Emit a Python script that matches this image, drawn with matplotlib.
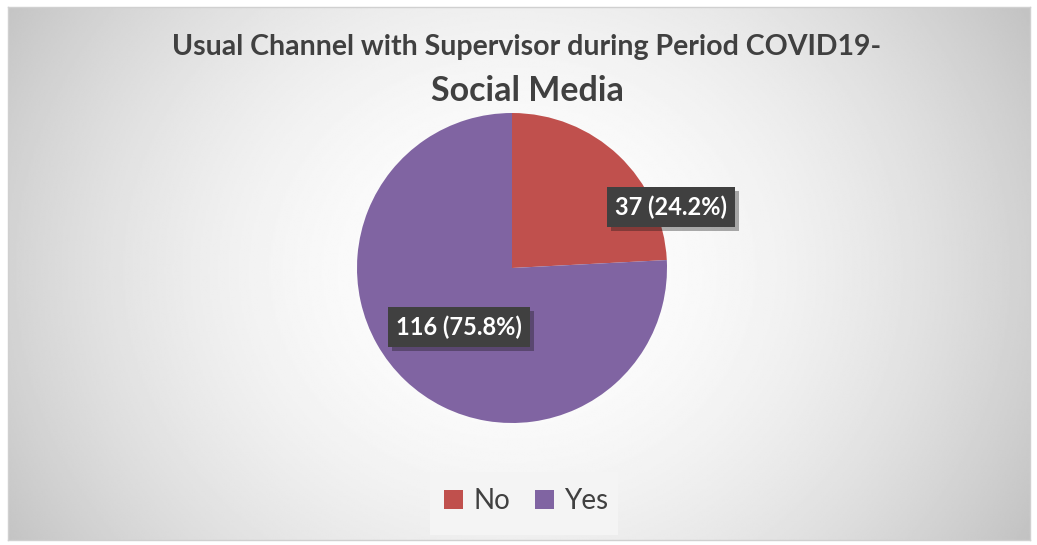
import numpy as np
import matplotlib.pyplot as plt
from matplotlib.patches import Rectangle, Patch
import matplotlib.patheffects as pe

labels = ['No', 'Yes']
counts = [37, 116]
colors = ['#C0504D', '#8064A2']
title_1 = 'Usual Channel with Supervisor during Period COVID19-'
title_2 = 'Social Media'

W, H = 1037, 545
fig = plt.figure(figsize=(W / 100, H / 100), dpi=100)
fig.patch.set_facecolor('white')

# radial gradient background inside the chart frame
x0, y0, x1, y1 = 8, 7, 1030, 540
bg = fig.add_axes([x0 / W, 1 - y1 / H, (x1 - x0) / W, (y1 - y0) / H])
yy, xx = np.mgrid[0:300, 0:600]
cx, cy = 600 * (512 - x0) / (x1 - x0), 300 * (270 - y0) / (y1 - y0)
d = np.sqrt(((xx - cx) / 600) ** 2 + ((yy - cy) / 300) ** 2 * 0.35)
d = np.clip(d / d.max(), 0, 1)
shade = 1.0 - 0.24 * d ** 1.9
bg.imshow(shade, cmap='gray', vmin=0, vmax=1, aspect='auto', interpolation='bilinear')
bg.set_xticks([])
bg.set_yticks([])
for s in bg.spines.values():
    s.set_color('#d0d0d0')
    s.set_linewidth(1)

# pie
r = 155
cx_px, cy_px = 512, 268
ax = fig.add_axes([(cx_px - r) / W, 1 - (cy_px + r) / H, 2 * r / W, 2 * r / H])
wedges, _ = ax.pie(counts, colors=colors, startangle=90, counterclock=False,
                   radius=1.0, wedgeprops=dict(linewidth=0))
ax.set_xlim(-1, 1)
ax.set_ylim(-1, 1)
ax.set_aspect('auto')
ax.axis('off')

total = sum(counts)
label_pos = [(671, 207), (459, 327)]
for n, (px, py) in zip(counts, label_pos):
    txt = f'{n} ({n / total * 100:.1f}%)'
    fig.text(px / W, 1 - py / H, txt, ha='center', va='center', color='white',
             fontsize=17, fontweight='bold', family='Lato',
             bbox=dict(boxstyle='square,pad=0.35', fc='#404040', ec='none',
                       path_effects=[pe.withSimplePatchShadow(offset=(3, -3), alpha=0.35)]))

fig.text(527 / W, 1 - 47 / H, title_1, ha='center', va='center', fontsize=20.5,
         fontweight='bold', color='#404040', family='Lato')
fig.text(527 / W, 1 - 91 / H, title_2, ha='center', va='center',
         fontsize=24.5, fontweight='bold', color='#404040', family='Lato')

# legend box
lx0, ly0, lx1, ly1 = 430, 472, 618, 535
fig.patches.append(Rectangle((lx0 / W, 1 - ly1 / H), (lx1 - lx0) / W, (ly1 - ly0) / H,
                             transform=fig.transFigure, fc='#f4f4f4', ec='none'))
handles = [Patch(facecolor=c, label=l) for c, l in zip(colors, labels)]
fig.legend(handles=handles, loc='center', bbox_to_anchor=(526 / W, 1 - 501 / H),
           ncol=2, frameon=False, handlelength=0.7, handleheight=0.7,
           handletextpad=0.35, columnspacing=0.9, labelcolor='#404040',
           prop=dict(family='Lato', size=20))

fig.savefig('out.png', dpi=100)
